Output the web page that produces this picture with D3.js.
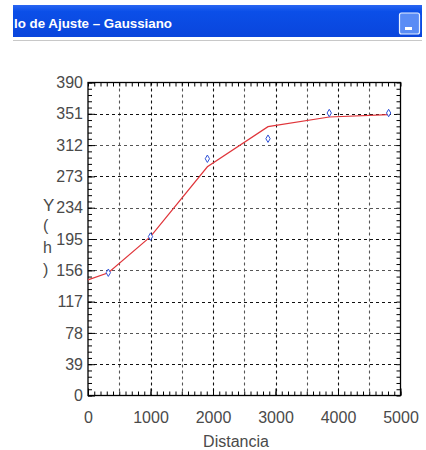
<!DOCTYPE html>
<html>
<head>
<meta charset="utf-8">
<script src="https://cdn.jsdelivr.net/npm/d3@7"></script>
<style>
  html, body { margin: 0; padding: 0; background: #fff; }
  svg { display: block; }
  text { font-family: "Liberation Sans", Arial, sans-serif; }
</style>
</head>
<body>
<svg id="chart" width="426" height="450"></svg>
<script>
// Observed samples
const obsDist = [325, 1000, 1910, 2880, 3860, 4810];
const obsY    = [153, 198, 295, 320, 352, 352];

// Gaussian model fitted values
const fitDist = [0, 325, 1000, 1910, 2880, 3860, 4810];
const fitY    = [144, 153, 198, 285, 335, 347, 350];

// Axis ticks
const xTickLabels = [0, 1000, 2000, 3000, 4000, 5000];
const yTickLabels = [0, 39, 78, 117, 156, 195, 234, 273, 312, 351, 390];
const xGridStep = 500;

const windowTitle = "lo de Ajuste \u2013 Gaussiano";
const xTitle = "Distancia";
const yTitleChars = ["Y", "(", "h", ")"];

const svg = d3.select("#chart");
const labelColor = "#4a4a4a";

// ---- window title bar ----
const defs = svg.append("defs");
const grad = defs.append("linearGradient").attr("id", "bar").attr("x1", 0).attr("y1", 0).attr("x2", 0).attr("y2", 1);
grad.append("stop").attr("offset", "0%").attr("stop-color", "#2a66f2");
grad.append("stop").attr("offset", "20%").attr("stop-color", "#0b4fe8");
grad.append("stop").attr("offset", "100%").attr("stop-color", "#0a45dc");

svg.append("rect").attr("x", 13).attr("y", 5).attr("width", 409).attr("height", 32).attr("fill", "url(#bar)");
svg.append("line").attr("x1", 13).attr("x2", 422).attr("y1", 40.5).attr("y2", 40.5).attr("stroke", "#c8c8c8");
svg.append("text").attr("x", 14).attr("y", 28)
  .attr("font-size", 13).attr("font-weight", "bold").attr("fill", "#fff")
  .attr("textLength", 158).attr("lengthAdjust", "spacingAndGlyphs")
  .text(windowTitle);
// minimize button
svg.append("rect").attr("x", 399.5).attr("y", 13).attr("width", 20).attr("height", 21).attr("rx", 2)
  .attr("fill", "#5a8cf5").attr("stroke", "#e8f0ff").attr("stroke-width", 1.2);
svg.append("rect").attr("x", 405).attr("y", 27).attr("width", 7).attr("height", 3).attr("fill", "#fff");

// ---- plot ----
const x = d3.scaleLinear().domain([0, 5000]).range([88, 400.5]);
const y = d3.scaleLinear().domain([0, 390]).range([395.5, 82.5]);

const plot = svg.append("g");

// dashed grid
const xGrid = d3.range(xGridStep, 5000, xGridStep);
const yGrid = yTickLabels.slice(1, -1);
plot.append("g").selectAll("line").data(xGrid).join("line")
  .attr("x1", d => Math.round(x(d)) + 0.5).attr("x2", d => Math.round(x(d)) + 0.5)
  .attr("y1", y(390)).attr("y2", y(0))
  .attr("stroke", (d, i) => i % 2 ? "#111" : "#555").attr("stroke-width", 1.1)
  .attr("stroke-dasharray", "3,3");
plot.append("g").selectAll("line").data(yGrid).join("line")
  .attr("y1", d => Math.round(y(d)) + 0.5).attr("y2", d => Math.round(y(d)) + 0.5)
  .attr("x1", x(0)).attr("x2", x(5000))
  .attr("stroke", (d, i) => i % 2 ? "#555" : "#111").attr("stroke-width", 1.1)
  .attr("stroke-dasharray", "3,3");

// minor + major inward ticks on all four sides
function ticks(axis, transform) {
  const g = plot.append("g").attr("transform", transform).call(axis);
  g.select(".domain").remove();
  g.selectAll("line").attr("stroke", "#000");
  g.selectAll("text").remove();
}
const xMinor = d3.range(0, 5001, 100);
const yMinor = d3.range(0, 391, 7.8);
ticks(d3.axisBottom(x).tickValues(xMinor).tickSize(-4), `translate(0,${y(0)})`);
ticks(d3.axisTop(x).tickValues(xMinor).tickSize(-4), `translate(0,${y(390)})`);
ticks(d3.axisLeft(y).tickValues(yMinor).tickSize(-4), `translate(${x(0)},0)`);
ticks(d3.axisRight(y).tickValues(yMinor).tickSize(-4), `translate(${x(5000)},0)`);
ticks(d3.axisBottom(x).tickValues(xTickLabels).tickSize(-7), `translate(0,${y(0)})`);
ticks(d3.axisLeft(y).tickValues(yTickLabels).tickSize(-7), `translate(${x(0)},0)`);

// frame
plot.append("rect").attr("x", x(0)).attr("y", y(390))
  .attr("width", x(5000) - x(0)).attr("height", y(0) - y(390))
  .attr("fill", "none").attr("stroke", "#000").attr("stroke-width", 1.3);

// tick labels
const xAxis = d3.axisBottom(x).tickValues(xTickLabels).tickFormat(d3.format("d")).tickSize(0).tickPadding(16);
const gx = plot.append("g").attr("transform", `translate(0,${y(0)})`).call(xAxis);
gx.select(".domain").remove();
gx.selectAll("text").attr("font-size", 16).attr("fill", labelColor).attr("font-family", "Liberation Sans, Arial, sans-serif");

const yAxis = d3.axisLeft(y).tickValues(yTickLabels).tickFormat(d3.format("d")).tickSize(0).tickPadding(5);
const gy = plot.append("g").attr("transform", `translate(${x(0)},0)`).call(yAxis);
gy.select(".domain").remove();
gy.selectAll("text").attr("font-size", 16).attr("fill", labelColor).attr("font-family", "Liberation Sans, Arial, sans-serif");

// axis titles
svg.append("text").attr("x", 236).attr("y", 447).attr("text-anchor", "middle")
  .attr("font-size", 16).attr("fill", labelColor).text(xTitle);
const yTitleBase = [211, 231, 253, 275];
svg.append("g").selectAll("text").data(yTitleChars).join("text")
  .attr("x", 43).attr("y", (d, i) => yTitleBase[i])
  .attr("font-size", (d, i) => i === 0 ? 17 : 16).attr("fill", labelColor).text(d => d);

// fitted curve
const line = d3.line().x(d => x(d[0])).y(d => y(d[1]));
plot.append("path").datum(fitDist.map((d, i) => [d, fitY[i]]))
  .attr("d", line).attr("fill", "none").attr("stroke", "#e0353a").attr("stroke-width", 1.2);

// observed markers
plot.append("g").selectAll("path").data(obsDist.map((d, i) => [d, obsY[i]])).join("path")
  .attr("transform", d => `translate(${x(d[0])},${y(d[1])})`)
  .attr("d", d3.symbol(d3.symbolDiamond, 16))
  .attr("fill", "#fff").attr("stroke", "#2f52d8").attr("stroke-width", 1);
</script>
</body>
</html>
